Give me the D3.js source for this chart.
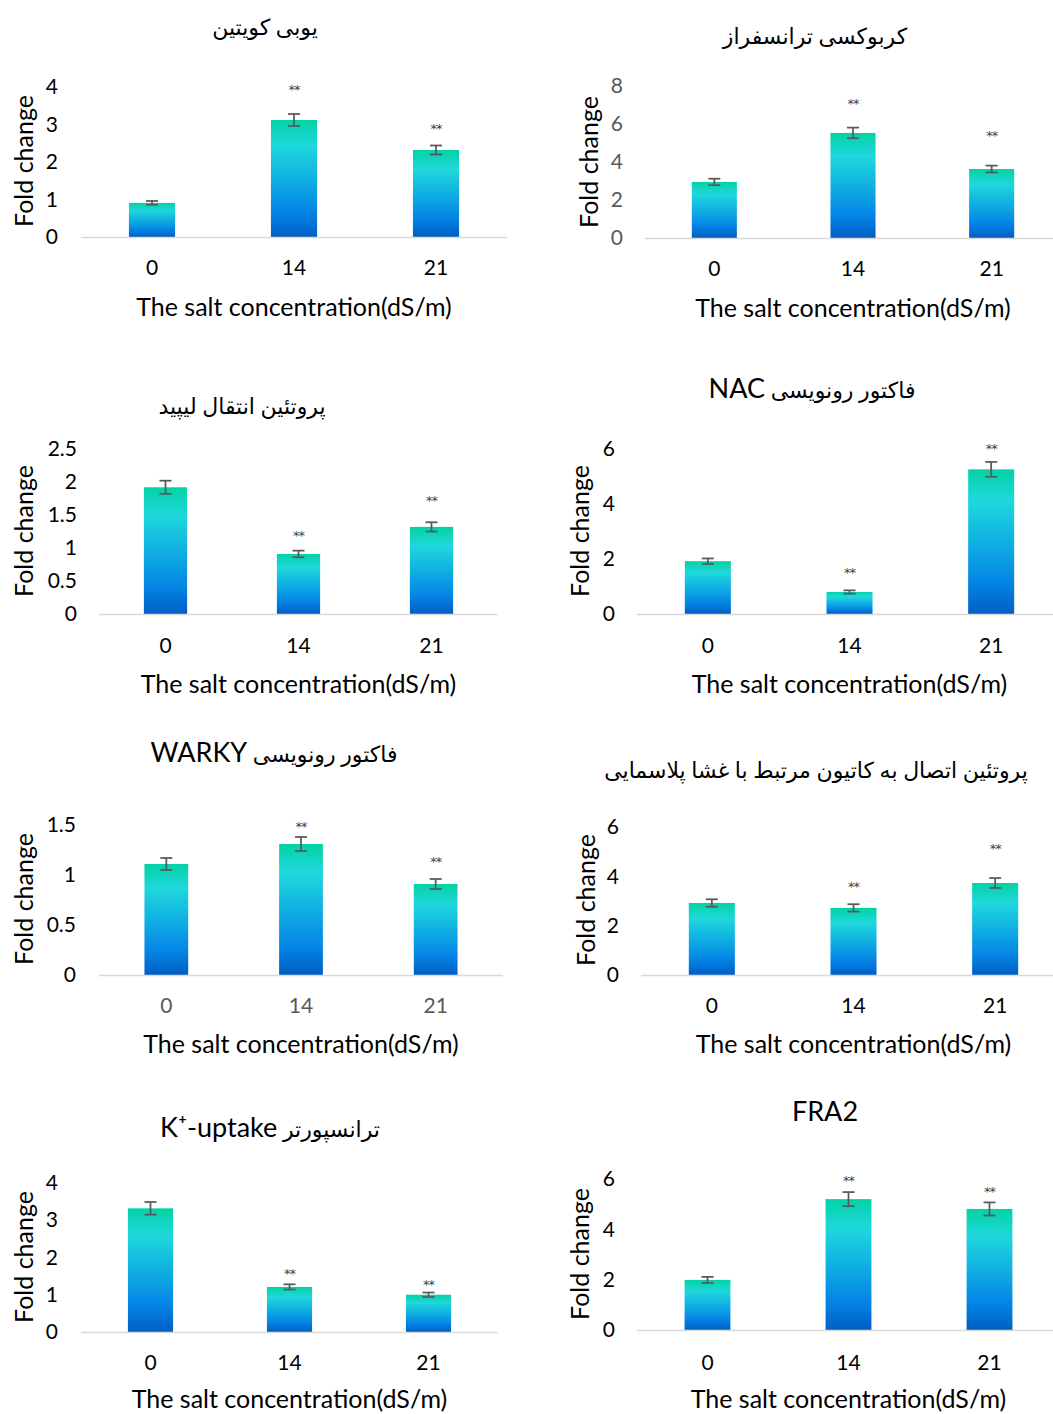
<!DOCTYPE html>
<html>
<head>
<meta charset="utf-8">
<script src="https://cdn.jsdelivr.net/npm/d3@7"></script>
<style>
  body { margin: 0; background: #fff; }
  svg text { font-family: Lato, "DejaVu Sans", sans-serif; }
</style>
</head>
<body>
<div id="chart"></div>
<script>
// data
var categories = ["0", "14", "21"];
var titles = [
  "یوبی کویتین",
  "کربوکسی ترانسفراز",
  "پروتئین انتقال لیپید",
  "فاکتور رونویسی NAC",
  "فاکتور رونویسی WARKY",
  "پروتئین اتصال به کاتیون مرتبط با غشا پلاسمایی",
  "ترانسپورتر K⁺-uptake",
  "FRA2"
];
var foldChange = [
  [0.91, 3.12, 2.32],
  [2.95, 5.53, 3.63],
  [1.92, 0.91, 1.32],
  [1.92, 0.80, 5.26],
  [1.11, 1.31, 0.91],
  [2.92, 2.72, 3.73],
  [3.32, 1.21, 1.00],
  [1.99, 5.20, 4.81]
];
var errors = [
  [0.05, 0.16, 0.12],
  [0.17, 0.28, 0.18],
  [0.10, 0.05, 0.07],
  [0.10, 0.06, 0.27],
  [0.06, 0.07, 0.05],
  [0.15, 0.15, 0.20],
  [0.17, 0.07, 0.06],
  [0.12, 0.28, 0.26]
];
// where the "**" marks sit, in fold-change units (null = no mark)
var starLevel = [
  [null, 4.00, 2.96],
  [null, 7.20, 5.53],
  [null, 1.23, 1.76],
  [null, 1.60, 6.13],
  [null, 1.51, 1.16],
  [null, 3.69, 5.23],
  [null, 1.65, 1.35],
  [null, 6.04, 5.60]
];
var yMax  = [4, 8, 2.5, 6, 1.5, 6, 4, 6];
var yStep = [1, 2, 0.5, 2, 0.5, 2, 1, 2];

var xTitle = "The salt concentration(dS/m)";
var yTitle = "Fold change";

// panel placement on the page
var layout = [
  {x0: 81,  x1: 507,  base: 237,  top: 87,   tickR: 58,  yT: [24, 161],   title: [265, 29],   xTickY: 268,  xTitleY: 307},
  {x0: 645, x1: 1061, base: 238,  top: 86,   tickR: 623, yT: [589, 162],  title: [815, 38],   xTickY: 269,  xTitleY: 308},
  {x0: 99,  x1: 498,  base: 614,  top: 449,  tickR: 77,  yT: [24, 531],   title: [242, 408],  xTickY: 646,  xTitleY: 684},
  {x0: 637, x1: 1062, base: 614,  top: 449,  tickR: 615, yT: [580, 531],  title: [812, 392],  xTickY: 646,  xTitleY: 684},
  {x0: 99,  x1: 503,  base: 975,  top: 825,  tickR: 76,  yT: [24, 899],   title: [274, 756],  xTickY: 1006, xTitleY: 1044},
  {x0: 641, x1: 1066, base: 975,  top: 827,  tickR: 619, yT: [586, 900],  title: [816, 772],  xTickY: 1006, xTitleY: 1044},
  {x0: 81,  x1: 498,  base: 1332, top: 1183, tickR: 58,  yT: [24, 1257],  title: [270, 1131], xTickY: 1363, xTitleY: 1399},
  {x0: 637, x1: 1060, base: 1330, top: 1179, tickR: 615, yT: [580, 1254], title: [825, 1115], xTickY: 1363, xTitleY: 1399}
];
var yTickColor = ["#000", "#595959", "#000", "#000", "#000", "#000", "#000", "#000"];
var xTickColor = ["#000", "#000", "#000", "#000", "#595959", "#000", "#000", "#000"];

var svg = d3.select("#chart").append("svg")
    .attr("width", 1053)
    .attr("height", 1414);

var grad = svg.append("defs").append("linearGradient")
    .attr("id", "barFill")
    .attr("x1", 0).attr("y1", 0).attr("x2", 0).attr("y2", 1);
[["0%", "#03d2a4"], ["22%", "#1fd8dc"], ["50%", "#10b0e2"], ["78%", "#0485e6"], ["100%", "#005ec4"]]
  .forEach(function (s) {
    grad.append("stop").attr("offset", s[0]).attr("stop-color", s[1]);
  });

// split a title into latin / persian runs so each can get its own size
function titleRuns(t) {
  return t.split(/([A-Za-z0-9][A-Za-z0-9⁺\-]*)/).filter(function (s) { return s.length; });
}

layout.forEach(function (p, k) {
  var g = svg.append("g");

  var x = d3.scaleBand()
      .domain(categories)
      .range([p.x0, p.x1])
      .paddingInner(0.675)
      .paddingOuter(0.3375);

  var y = d3.scaleLinear()
      .domain([0, yMax[k]])
      .range([p.base, p.top]);

  var rows = categories.map(function (c, i) {
    return {cat: c, v: foldChange[k][i], e: errors[k][i], s: starLevel[k][i]};
  });

  // y axis labels
  var yAxis = d3.axisLeft(y)
      .tickValues(d3.range(0, yMax[k] + yStep[k] / 2, yStep[k]))
      .tickFormat(function (d) { return String(+d.toFixed(2)); })
      .tickSize(0)
      .tickPadding(p.x0 - p.tickR);
  var ya = g.append("g").attr("transform", "translate(" + p.x0 + ",0)").call(yAxis);
  ya.select(".domain").remove();
  ya.selectAll("text")
      .style("font-size", "21px")
      .attr("fill", yTickColor[k]);

  // x axis labels
  var xAxis = d3.axisBottom(x).tickSize(0);
  var xa = g.append("g").attr("transform", "translate(0," + p.base + ")").call(xAxis);
  xa.select(".domain").remove();
  xa.selectAll("text")
      .attr("y", p.xTickY - p.base)
      .attr("dy", "0.35em")
      .style("font-size", "21px")
      .attr("fill", xTickColor[k]);

  // bars
  g.selectAll("rect.bar")
      .data(rows)
      .enter().append("rect")
      .attr("class", "bar")
      .attr("x", function (d) { return x(d.cat); })
      .attr("width", x.bandwidth())
      .attr("y", function (d) { return y(d.v); })
      .attr("height", function (d) { return y(0) - y(d.v); })
      .attr("fill", "url(#barFill)");

  // baseline
  g.append("line")
      .attr("x1", p.x0).attr("x2", p.x1)
      .attr("y1", y(0) + 0.5).attr("y2", y(0) + 0.5)
      .attr("stroke", "#d9d9d9")
      .attr("stroke-width", 1.5);

  // error bars
  var eb = g.selectAll("g.err")
      .data(rows)
      .enter().append("g")
      .attr("class", "err")
      .attr("stroke", "#595959")
      .attr("stroke-width", 1.75);
  eb.append("line")
      .attr("x1", function (d) { return x(d.cat) + x.bandwidth() / 2; })
      .attr("x2", function (d) { return x(d.cat) + x.bandwidth() / 2; })
      .attr("y1", function (d) { return y(d.v + d.e); })
      .attr("y2", function (d) { return y(d.v - d.e); });
  eb.selectAll("line.cap")
      .data(function (d) { return [{cat: d.cat, at: d.v + d.e}, {cat: d.cat, at: d.v - d.e}]; })
      .enter().append("line")
      .attr("class", "cap")
      .attr("x1", function (d) { return x(d.cat) + x.bandwidth() / 2 - 6; })
      .attr("x2", function (d) { return x(d.cat) + x.bandwidth() / 2 + 6; })
      .attr("y1", function (d) { return y(d.at); })
      .attr("y2", function (d) { return y(d.at); });

  // significance marks
  g.selectAll("text.star")
      .data(rows.filter(function (d) { return d.s != null; }))
      .enter().append("text")
      .attr("class", "star")
      .attr("x", function (d) { return x(d.cat) + x.bandwidth() / 2; })
      .attr("y", function (d) { return y(d.s); })
      .attr("dy", "0.55em")
      .attr("text-anchor", "middle")
      .style("font-family", "'DejaVu Sans', sans-serif")
      .style("font-size", "13px")
      .style("letter-spacing", "-1px")
      .attr("fill", "#3a3f4a")
      .text("**");

  // titles
  var tt = g.append("text")
      .attr("x", p.title[0])
      .attr("y", p.title[1])
      .attr("dy", "0.35em")
      .attr("text-anchor", "middle")
      .attr("direction", "rtl")
      .attr("fill", "#000");
  tt.selectAll("tspan")
      .data(titleRuns(titles[k]))
      .enter().append("tspan")
      .style("font-size", function (d) { return /[A-Za-z]/.test(d) ? "27px" : "22px"; })
      .text(function (d) { return d; });

  g.append("text")
      .attr("x", x("14") + x.bandwidth() / 2)
      .attr("y", p.xTitleY)
      .attr("dy", "0.35em")
      .attr("text-anchor", "middle")
      .style("font-size", "25px")
      .attr("fill", "#000")
      .text(xTitle);

  g.append("text")
      .attr("transform", "translate(" + p.yT[0] + "," + p.yT[1] + ") rotate(-90)")
      .attr("dy", "0.35em")
      .attr("text-anchor", "middle")
      .style("font-size", "25px")
      .attr("fill", "#000")
      .text(yTitle);
});
</script>
</body>
</html>
